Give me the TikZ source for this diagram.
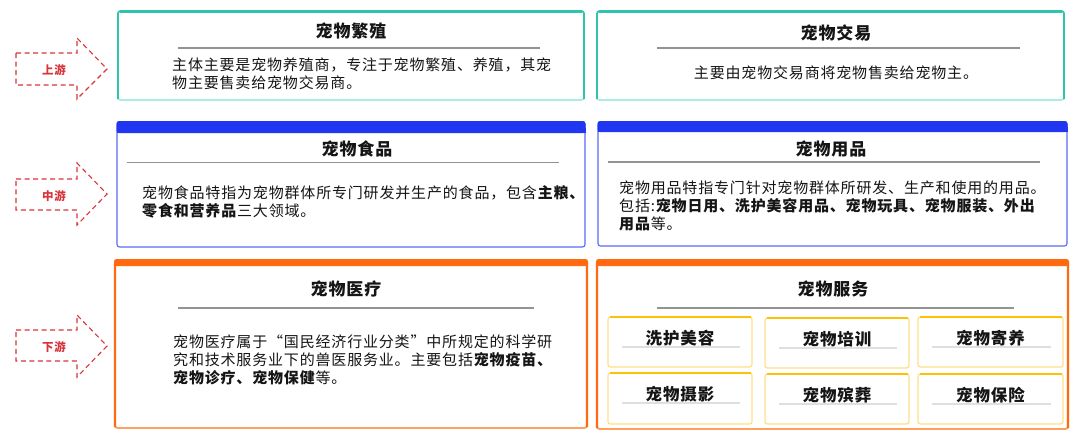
\documentclass[tikz,border=0pt]{standalone}
\usepackage{fontspec}
\setmainfont{Noto Sans CJK SC}[LetterSpace=5.5]
\usetikzlibrary{fit}
\definecolor{tealc}{HTML}{2EC4B0}
\definecolor{teall}{HTML}{A8ECE2}
\definecolor{bluec}{HTML}{2036F0}
\definecolor{bluel}{HTML}{5A6AF5}
\definecolor{orangec}{HTML}{FF6A10}
\definecolor{orangel}{HTML}{FFA060}
\definecolor{goldc}{HTML}{FFC107}
\definecolor{goldl}{HTML}{FFE08A}
\definecolor{redc}{HTML}{D8343C}
\definecolor{txt}{HTML}{151515}
\tikzset{
  boxbase/.style={inner sep=0pt, rounded corners=2.5pt, fill=white},
  tealbox/.style={boxbase, draw=tealc, line width=1.6pt},
  bluebox/.style={boxbase, draw=bluel, line width=1.1pt},
  orangebox/.style={boxbase, draw=orangec, line width=1.8pt},
  goldbox/.style={boxbase, draw=goldl, line width=1.3pt},
  ttl/.style={font=\fontsize{17}{20}\selectfont\bfseries, text=txt, inner sep=0pt},
  sttl/.style={font=\fontsize{16.5}{20}\selectfont\bfseries, text=txt, inner sep=0pt},
  body/.style={font=\fontsize{15}{18}\selectfont, text=txt, align=left, anchor=west, inner sep=0pt},
  rule/.style={draw=gray!85, line width=1.6pt},
  srule/.style={draw=gray!25, line width=1.1pt},
  darrow/.style={draw=redc, line width=1.1pt, dash pattern=on 5pt off 3.5pt},
  alabel/.style={font=\fontsize{11.5}{13}\selectfont\bfseries, text=redc, inner sep=0pt},
}
\begin{document}
\begin{tikzpicture}[x=1pt, y=-1pt]
\useasboundingbox (0,0) rectangle (1080,439);
\fill[white] (0,0) rectangle (1080,439);

% ---------- left dashed arrows ----------
\draw[darrow] (16,53) -- (77,53) -- (77,38) -- (107,69) -- (77,99) -- (77,85) -- (16,85) -- cycle;
\node[alabel] (up) at (54,70) {上游};
\draw[darrow] (16,179) -- (77,179) -- (77,163) -- (107,194) -- (77,225) -- (77,210) -- (16,210) -- cycle;
\node[alabel] (mid) at (54,196) {中游};
\draw[darrow] (16,330) -- (77,330) -- (77,315) -- (107,346) -- (77,377) -- (77,361) -- (16,361) -- cycle;
\node[alabel] (down) at (54,347) {下游};

% ---------- row 1 (teal) ----------
\node[tealbox, draw=teall, fit={(118,11)(584,100)}] (b1) {};
\draw[tealc, line width=1.6pt, rounded corners=2.5pt] (118,99) -- (118,11) -- (584,11) -- (584,99);
\draw[tealc, line width=3pt] (120,11.5) -- (582,11.5);
\node[ttl] (t1) at (351,31) {宠物繁殖};
\draw[rule] (178,48) -- (540,48);
\node[body] (x1) at (172,74) {主体主要是宠物养殖商，专注于宠物繁殖、养殖，其宠\\物主要售卖给宠物交易商。};

\node[tealbox, draw=teall, fit={(597,11)(1064,100)}] (b2) {};
\draw[tealc, line width=1.6pt, rounded corners=2.5pt] (597,99) -- (597,11) -- (1064,11) -- (1064,99);
\draw[tealc, line width=3pt] (599,11.5) -- (1062,11.5);
\node[ttl] (t2) at (836,33) {宠物交易};
\draw[rule] (657,48) -- (1020,48);
\node[body, anchor=center] (x2) at (836,73) {主要由宠物交易商将宠物售卖给宠物主。};

% ---------- row 2 (blue) ----------
\node[bluebox, fit={(117,122)(585,247)}] (b3) {};
\fill[bluec, rounded corners=2.5pt] (116.5,121) rectangle (585.5,133);
\fill[bluec] (116.5,128) rectangle (585.5,133);
\node[ttl] (t3) at (357,149) {宠物食品};
\draw[rule] (127,162.5) -- (559,162.5);
\node[body] (x3) at (142,201.5) {宠物食品特指为宠物群体所专门研发并生产的食品，包含\textbf{主粮、}\\\textbf{零食和营养品}三大领域。};

\node[bluebox, fit={(598,122)(1067,246)}] (b4) {};
\fill[bluec, rounded corners=2.5pt] (597.5,121) rectangle (1067.5,132);
\fill[bluec] (597.5,127) rectangle (1067.5,132);
\node[ttl] (t4) at (831,149) {宠物用品};
\draw[rule] (608,162) -- (1040,162);
\node[body] (x4) at (619,206) {宠物用品特指专门针对宠物群体所研发、生产和使用的用品。\\包括:\textbf{宠物日用、洗护美容用品、宠物玩具、宠物服装、外出}\\\textbf{用品}等。};

% ---------- row 3 (orange) ----------
\node[orangebox, draw=orangel, fit={(115,261)(587,428)}] (b5) {};
\draw[orangec, line width=2.2pt, rounded corners=2.5pt] (115,427) -- (115,261) -- (587,261) -- (587,427);
\fill[orangec, rounded corners=2.5pt] (114,259) rectangle (588,266);
\node[ttl] (t5) at (346,289) {宠物医疗};
\draw[rule] (178,308) -- (534,308);
\node[body] (x5) at (173,359.5) {宠物医疗属于“国民经济行业分类”中所规定的科学研\\究和技术服务业下的兽医服务业。主要包括\textbf{宠物疫苗、}\\\textbf{宠物诊疗、宠物保健}等。};

\node[orangebox, draw=orangel, fit={(597,261)(1068,429)}] (b6) {};
\draw[orangec, line width=2.2pt, rounded corners=2.5pt] (597,428) -- (597,261) -- (1068,261) -- (1068,428);
\fill[orangec, rounded corners=2.5pt] (596,259) rectangle (1069,266);
\node[ttl] (t6) at (833,289) {宠物服务};
\draw[rule] (657,308) -- (1014,308);

% service sub-boxes
\foreach \n/\xa/\xb/\ya/\yb/\lab in {
  s1/608/752/317/367/洗护美容,
  s2/765/909/318/368/宠物培训,
  s3/918/1063/317/367/宠物寄养,
  s4/608/752/373/424/宠物摄影,
  s5/765/909/374/424/宠物殡葬,
  s6/918/1063/374/424/宠物保险}{
  \node[goldbox, fit={(\xa,\ya)(\xb,\yb)}] (\n) {};
  \draw[goldc, line width=1.6pt] (\xa+1.5,\ya) -- (\xb-1.5,\ya);
  \draw[srule] (\xa+14,\ya+30) -- (\xb-12,\ya+30);
  \node[sttl] (\n l) at ({(\xa+\xb)/2},\ya+21) {\lab};
}
\end{tikzpicture}
\end{document}
